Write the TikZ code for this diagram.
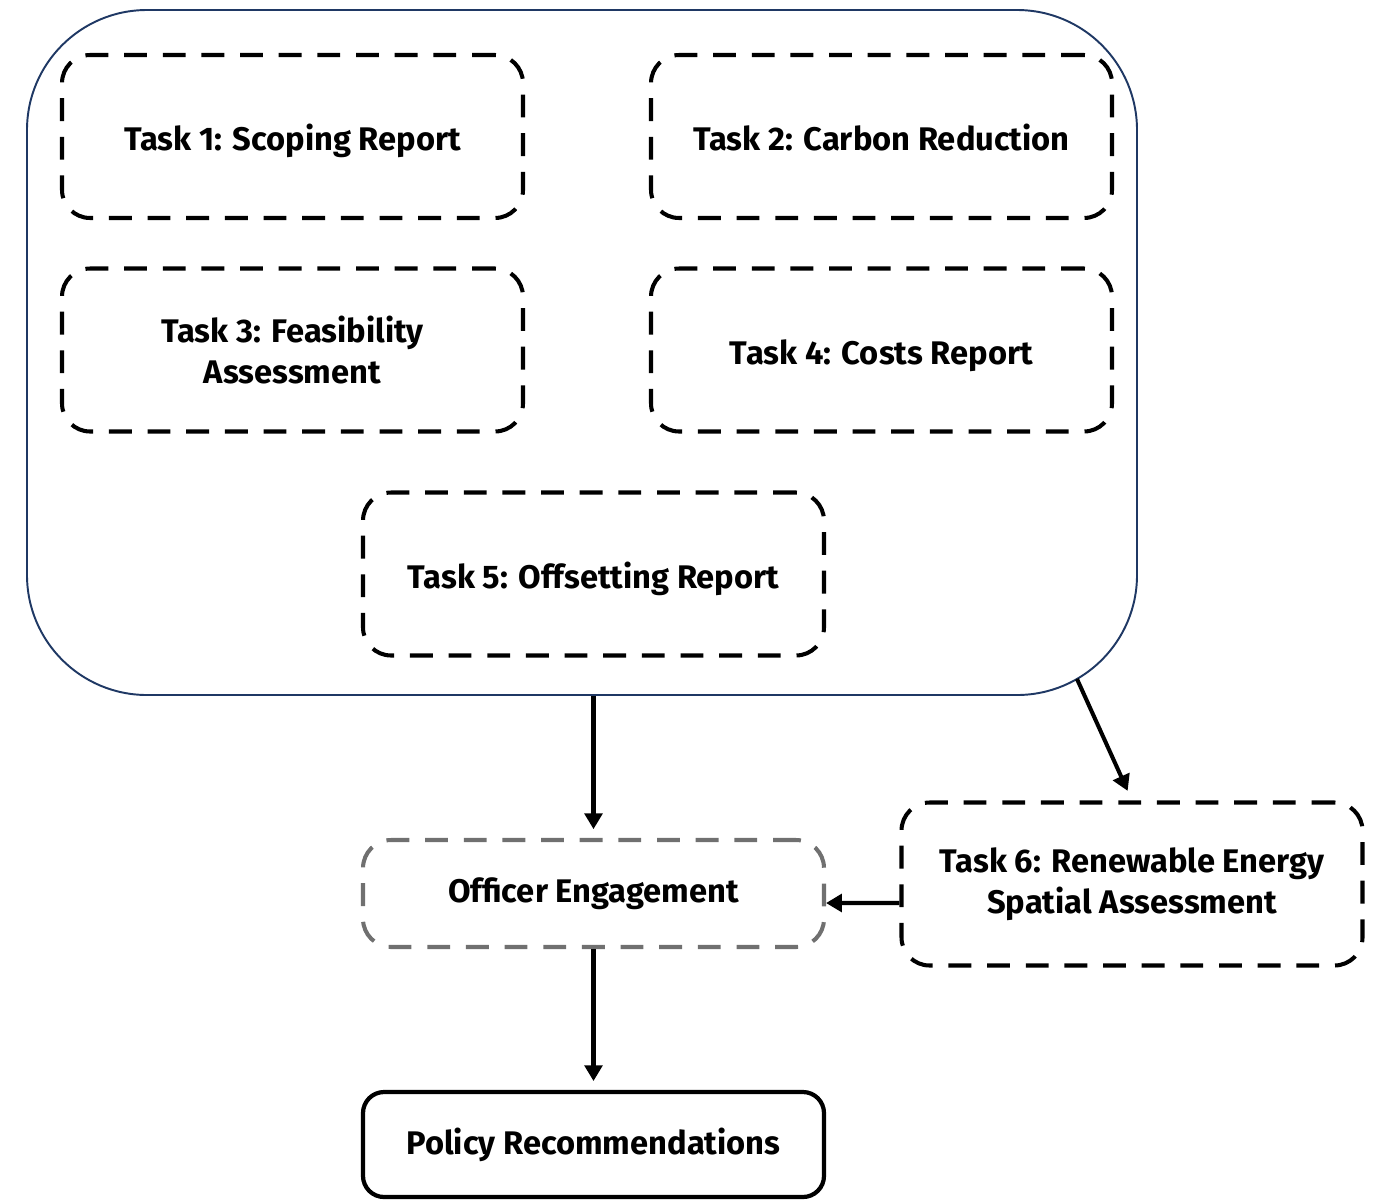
\documentclass[tikz,border=0pt]{standalone}
\usepackage{fontspec}
\setmainfont{Fira Sans}
\usepackage{tikz}
\usetikzlibrary{arrows.meta, positioning, calc}
\definecolor{frameblue}{RGB}{31, 56, 100}
\definecolor{midgray}{RGB}{112, 112, 112}

\tikzset{
    taskbox/.style={draw=black, line width=2.3pt, dash pattern=on 13pt off 9pt,
        rounded corners=16pt, minimum width=9.22cm, minimum height=3.26cm,
        align=center, font=\fontsize{18.6}{23.3}\selectfont\bfseries},
    oneline/.style={text height=21pt, text depth=5pt},
    engagebox/.style={taskbox, draw=midgray, minimum height=2.14cm},
    policybox/.style={draw=black, line width=2.4pt, rounded corners=12pt,
        minimum width=9.22cm, minimum height=2.1cm,
        font=\fontsize{18.6}{23.3}\selectfont\bfseries},
    flow/.style={line width=2.3pt, -{Triangle[length=9pt, width=10pt]}}
}

\begin{document}
\begin{tikzpicture}
\useasboundingbox (0,0) rectangle (27.54,-23.98);

% Outer frame holding the first five tasks
\node[draw=frameblue, line width=1.1pt, rounded corners=2.4cm,
      minimum width=22.2cm, minimum height=13.7cm] (frame) at (11.64,-7.05) {};

% Tasks inside the frame
\node[taskbox, oneline] (t1) at (5.85,-2.73) {Task 1: Scoping Report};
\node[taskbox, oneline] (t2) at (17.63,-2.73) {Task 2: Carbon Reduction};
\node[taskbox] (t3) at (5.85,-7.00) {Task 3: Feasibility\\Assessment};
\node[taskbox, oneline] (t4) at (17.63,-7.00) {Task 4: Costs Report};
\node[taskbox, oneline] (t5) at (11.87,-11.48) {Task 5: Offsetting Report};

% Lower part of the chart
\node[engagebox] (eng) at (11.87,-17.87) {Officer Engagement};
\node[taskbox] (t6) at (22.64,-17.68) {Task 6: Renewable Energy\\Spatial Assessment};
\node[policybox] (pol) at (11.87,-22.89) {Policy Recommendations};

% Point on the rounded corner of the frame
\coordinate (corner) at (21.54,-13.58);

% Arrows
\draw[flow, shorten >=5pt] (eng.north |- frame.south) -- (eng.north);
\draw[flow, shorten >=6pt] (corner) -- (t6.north);
\draw[flow] ($(t6.west)+(0,-0.38)$) -- ($(eng.east)+(0,-0.19)$);
\draw[flow, shorten >=5pt] (eng.south) -- (pol.north);
\end{tikzpicture}
\end{document}
